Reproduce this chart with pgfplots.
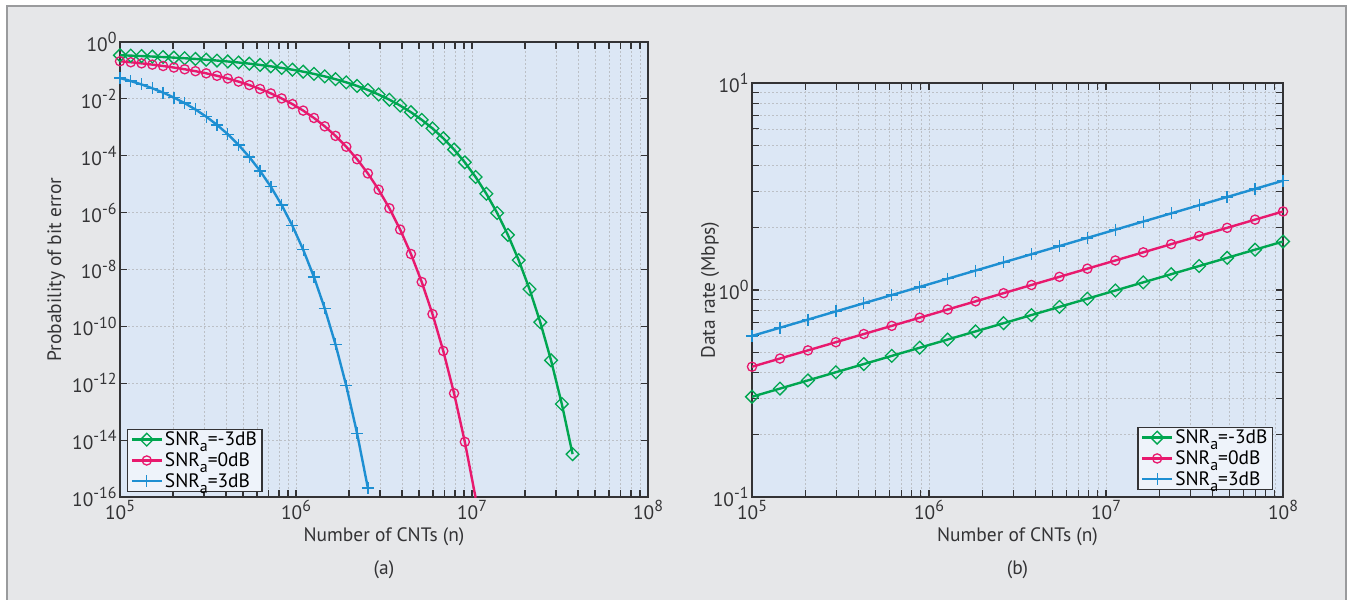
\documentclass[border=0pt]{standalone}
\usepackage{fontspec}
\setmainfont{PT Sans}
\setsansfont{PT Sans}
\usepackage{pgfplots}
\pgfplotsset{compat=1.18}
\definecolor{framebg}{HTML}{E6E7E9}
\definecolor{framedraw}{HTML}{9A9B9D}
\definecolor{plotbg}{HTML}{DCE7F5}
\definecolor{legbg}{HTML}{EEF3FA}
\definecolor{sgreen}{HTML}{00A650}
\definecolor{sred}{HTML}{E8196E}
\definecolor{sblue}{HTML}{1E8FD2}
\definecolor{axisc}{HTML}{333335}
\definecolor{gridc}{HTML}{BCC0C6}

\newcommand\sups[1]{\raisebox{0.40em}{\fontsize{16}{16}\selectfont#1}}
\newcommand\eqs{=}
\newcommand\snr{SNR\raisebox{-0.30em}{\fontsize{16}{16}\selectfont a}\eqs}
\newcommand\lbl{\fontsize{19.5}{22}\selectfont}

\begin{document}
\begin{tikzpicture}
  \useasboundingbox (0,0) rectangle (1351bp,600bp);
  \fill[white] (0,0) rectangle (1351bp,600bp);
  \fill[framebg] (7bp,-5bp) rectangle (1346bp,594bp);
  \draw[framedraw, line width=1.5bp] (7bp,-5bp) -- (7bp,594bp) -- (1346bp,594bp) -- (1346bp,-5bp);

  % (a) bit error probability
  \begin{axis}[scale only axis, xmode=log, ymode=log,
      at={(120bp,103bp)}, anchor=south west, width=528bp, height=455bp,
      xmin=1e5, xmax=1e8, ymin=1e-16, ymax=1, yminorticks=false,
      axis background/.style={fill=plotbg},
      axis line style={axisc, line width=1.3bp},
      tick style={axisc, line width=1.1bp},
      major tick length=7bp, minor tick length=7bp,
      xmajorgrids, xminorgrids, ymajorgrids,
      grid style={gridc, line width=0.8bp, dash pattern=on 2bp off 2bp},
      minor grid style={gridc, line width=0.8bp, dash pattern=on 2bp off 2bp},
      xtick={1e5,1e6,1e7,1e8},
      xticklabels={10\sups{5},10\sups{6},10\sups{7},10\sups{8}},
      ytick={1e0,1e-2,1e-4,1e-6,1e-8,1e-10,1e-12,1e-14,1e-16},
      yticklabels={10\sups{0},10\sups{-2},10\sups{-4},10\sups{-6},10\sups{-8},10\sups{-10},10\sups{-12},10\sups{-14},10\sups{-16}},
      tick label style={font=\lbl, text=axisc},
      xlabel={Number of CNTs (n)}, ylabel={Probability of bit error},
      xlabel style={font=\lbl, text=axisc, at={(axis description cs:0.5,-0.088)}, anchor=center},
      ylabel style={font=\lbl, text=axisc, at={(axis description cs:-0.121,0.5)}, anchor=center},
      legend style={fill=legbg, draw=axisc, line width=1.1bp, font=\lbl,
        inner xsep=3bp, inner ysep=0.5bp, row sep=1.5bp,
        at={(0.0133,0.011)}, anchor=south west},
      legend cell align=left,
      legend image code/.code={\draw[mark repeat=2,mark phase=2,#1]
        plot coordinates {(0bp,0bp) (15bp,0bp) (30bp,0bp)};}]
    \addplot[sgreen, line width=2.4bp, mark=square, mark size=4.5bp, mark options={rotate=45, line width=1.3bp}] coordinates {(1.0000e5,0.3422)(1.1514e5,0.3315)(1.3257e5,0.3201)(1.5264e5,0.3081)(1.7575e5,0.2955)(2.0236e5,0.2822)(2.3300e5,0.2683)(2.6827e5,0.2537)(3.0889e5,0.2385)(3.5566e5,0.2228)(4.0950e5,0.2066)(4.7150e5,0.1901)(5.4289e5,0.1733)(6.2508e5,0.1563)(7.1972e5,0.1394)(8.2869e5,0.1226)(9.5410e5,0.1063)(1.0985e6,0.09051)(1.2649e6,0.07557)(1.4563e6,0.06178)(1.6768e6,0.04922)(1.9307e6,0.03811)(2.2230e6,0.02854)(2.5595e6,0.02060)(2.9471e6,0.01423)(3.3932e6,9.364e-3)(3.9069e6,5.823e-3)(4.4984e6,3.394e-3)(5.1795e6,1.837e-3)(5.9636e6,9.130e-4)(6.8665e6,4.114e-4)(7.9060e6,1.657e-4)(9.1030e6,5.867e-5)(1.0481e7,1.790e-5)(1.2068e7,4.603e-6)(1.3895e7,9.727e-7)(1.5999e7,1.640e-7)(1.8421e7,2.131e-8)(2.1210e7,2.051e-9)(2.4421e7,1.400e-10)(2.8118e7,6.428e-12)(3.2375e7,1.869e-13)(3.7276e7,3.212e-15)};
    \addlegendentry{\snr-3dB}
    \addplot[sred, line width=2.4bp, mark=o, mark size=4.6bp, mark options={line width=1.3bp}] coordinates {(1.0000e5,0.2104)(1.1514e5,0.1940)(1.3257e5,0.1772)(1.5264e5,0.1602)(1.7575e5,0.1433)(2.0236e5,0.1264)(2.3300e5,0.1100)(2.6827e5,0.09409)(3.0889e5,0.07899)(3.5566e5,0.06490)(4.0950e5,0.05202)(4.7150e5,0.04055)(5.4289e5,0.03062)(6.2508e5,0.02230)(7.1972e5,0.01557)(8.2869e5,0.01037)(9.5410e5,6.538e-3)(1.0985e6,3.871e-3)(1.2649e6,2.133e-3)(1.4563e6,1.083e-3)(1.6768e6,4.998e-4)(1.9307e6,2.069e-4)(2.2230e6,7.559e-5)(2.5595e6,2.391e-5)(2.9471e6,6.413e-6)(3.3932e6,1.422e-6)(3.9069e6,2.534e-7)(4.4984e6,3.510e-8)(5.1795e6,3.637e-9)(5.9636e6,2.700e-10)(6.8665e6,1.366e-11)(7.9060e6,4.440e-13)(9.1030e6,8.682e-15)(1.0481e7,9.449e-17)};
    \addlegendentry{\snr0dB}
    \addplot[sblue, line width=2.4bp, mark=+, mark size=6bp, mark options={line width=1.3bp}] coordinates {(1.0000e5,0.05406)(1.1514e5,0.04235)(1.3257e5,0.03217)(1.5264e5,0.02358)(1.7575e5,0.01659)(2.0236e5,0.01113)(2.3300e5,7.088e-3)(2.6827e5,4.244e-3)(3.0889e5,2.369e-3)(3.5566e5,1.220e-3)(4.0950e5,5.726e-4)(4.7150e5,2.416e-4)(5.4289e5,9.023e-5)(6.2508e5,2.929e-5)(7.1972e5,8.089e-6)(8.2869e5,1.855e-6)(9.5410e5,3.437e-7)(1.0985e6,4.973e-8)(1.2649e6,5.424e-9)(1.4563e6,4.272e-10)(1.6768e6,2.312e-11)(1.9307e6,8.125e-13)(2.2230e6,1.738e-14)(2.5595e6,2.098e-16)};
    \addlegendentry{\snr3dB}
  \end{axis}

  % (b) data rate
  \begin{axis}[scale only axis, xmode=log, ymode=log,
      at={(752bp,103bp)}, anchor=south west, width=531bp, height=414bp,
      xmin=1e5, xmax=1e8, ymin=0.1, ymax=10,
      axis background/.style={fill=plotbg},
      axis line style={axisc, line width=1.3bp},
      tick style={axisc, line width=1.1bp},
      major tick length=7bp, minor tick length=7bp,
      xmajorgrids, xminorgrids, ymajorgrids, yminorgrids,
      grid style={gridc, line width=0.8bp, dash pattern=on 2bp off 2bp},
      minor grid style={gridc, line width=0.8bp, dash pattern=on 2bp off 2bp},
      xtick={1e5,1e6,1e7,1e8},
      xticklabels={10\sups{5},10\sups{6},10\sups{7},10\sups{8}},
      ytick={0.1,1,10}, yticklabels={10\sups{-1},10\sups{0},10\sups{1}},
      tick label style={font=\lbl, text=axisc},
      xlabel={Number of CNTs (n)}, ylabel={Data rate (Mbps)},
      xlabel style={font=\lbl, text=axisc, at={(axis description cs:0.5,-0.0966)}, anchor=center},
      ylabel style={font=\lbl, text=axisc, at={(axis description cs:-0.079,0.5)}, anchor=center},
      legend style={fill=legbg, draw=axisc, line width=1.1bp, font=\lbl,
        inner xsep=3bp, inner ysep=0.5bp, row sep=1.5bp,
        at={(0.981,0.017)}, anchor=south east},
      legend cell align=left,
      legend image code/.code={\draw[mark repeat=2,mark phase=2,#1]
        plot coordinates {(0bp,0bp) (15bp,0bp) (30bp,0bp)};}]
    \addplot[sgreen, line width=2.4bp, mark=square, mark size=4.5bp, mark options={rotate=45, line width=1.3bp}] coordinates {(1.0000e5,0.3050)(1.4384e5,0.3340)(2.0691e5,0.3658)(2.9764e5,0.4006)(4.2813e5,0.4387)(6.1585e5,0.4805)(8.8587e5,0.5262)(1.2743e6,0.5763)(1.8330e6,0.6311)(2.6367e6,0.6911)(3.7927e6,0.7569)(5.4556e6,0.8289)(7.8476e6,0.9078)(1.1288e7,0.9942)(1.6238e7,1.0888)(2.3357e7,1.1924)(3.3598e7,1.3058)(4.8329e7,1.4301)(6.9519e7,1.5661)(1.0000e8,1.7151)};
    \addlegendentry{\snr-3dB}
    \addplot[sred, line width=2.4bp, mark=o, mark size=4.6bp, mark options={line width=1.3bp}] coordinates {(1.0000e5,0.4260)(1.4384e5,0.4665)(2.0691e5,0.5109)(2.9764e5,0.5595)(4.2813e5,0.6128)(6.1585e5,0.6711)(8.8587e5,0.7349)(1.2743e6,0.8049)(1.8330e6,0.8815)(2.6367e6,0.9653)(3.7927e6,1.0572)(5.4556e6,1.1578)(7.8476e6,1.2679)(1.1288e7,1.3886)(1.6238e7,1.5207)(2.3357e7,1.6654)(3.3598e7,1.8238)(4.8329e7,1.9974)(6.9519e7,2.1874)(1.0000e8,2.3956)};
    \addlegendentry{\snr0dB}
    \addplot[sblue, line width=2.4bp, mark=+, mark size=6bp, mark options={line width=1.3bp}] coordinates {(1.0000e5,0.6000)(1.4384e5,0.6571)(2.0691e5,0.7196)(2.9764e5,0.7881)(4.2813e5,0.8631)(6.1585e5,0.9452)(8.8587e5,1.0351)(1.2743e6,1.1336)(1.8330e6,1.2415)(2.6367e6,1.3596)(3.7927e6,1.4890)(5.4556e6,1.6307)(7.8476e6,1.7858)(1.1288e7,1.9557)(1.6238e7,2.1418)(2.3357e7,2.3456)(3.3598e7,2.5688)(4.8329e7,2.8132)(6.9519e7,3.0809)(1.0000e8,3.3740)};
    \addlegendentry{\snr3dB}
  \end{axis}

  \node[font=\lbl, text=axisc] at (384bp,30bp) {(a)};
  \node[font=\lbl, text=axisc] at (1017.5bp,30bp) {(b)};
\end{tikzpicture}
\end{document}
